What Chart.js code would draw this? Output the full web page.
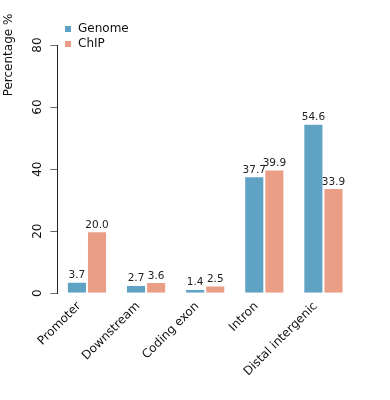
<!DOCTYPE html>
<html>
<head>
<meta charset="utf-8">
<script src="https://cdn.jsdelivr.net/npm/chart.js@4"></script>
<style>
  body { margin: 0; background: #fff; }
  #wrap { width: 390px; height: 400px; }
</style>
</head>
<body>
<div id="wrap"><canvas id="regionChart" width="390" height="400"></canvas></div>
<script>
const categories = ['Promoter', 'Downstream', 'Coding exon', 'Intron', 'Distal intergenic'];
const genomeValues = [3.7, 2.7, 1.4, 37.7, 54.6];
const chipValues = [20.0, 3.6, 2.5, 39.9, 33.9];
const yTicks = [0, 20, 40, 60, 80];

const FONT = '"DejaVu Sans", sans-serif';

// value labels above each bar
const valueLabels = {
    id: 'valueLabels',
    afterDatasetsDraw(chart) {
        const ctx = chart.ctx;
        ctx.save();
        ctx.font = '10.5px ' + FONT;
        ctx.fillStyle = '#222';
        ctx.textAlign = 'center';
        ctx.textBaseline = 'bottom';
        chart.data.datasets.forEach((ds, i) => {
            chart.getDatasetMeta(i).data.forEach((bar, j) => {
                ctx.fillText(ds.data[j].toFixed(1), bar.x, bar.y - 1);
            });
        });
        ctx.restore();
    }
};

// legend in top left, y axis title, vertical y tick labels
const extras = {
    id: 'extras',
    afterDraw(chart) {
        const ctx = chart.ctx;
        const y = chart.scales.y;
        ctx.save();
        ctx.font = '12px ' + FONT;
        ctx.textBaseline = 'middle';
        ctx.textAlign = 'left';
        chart.data.datasets.forEach((ds, i) => {
            const ly = 29 + i * 15;
            ctx.fillStyle = ds.backgroundColor;
            ctx.fillRect(65, ly - 3, 6, 6);
            ctx.fillStyle = '#111';
            ctx.fillText(ds.label, 78, ly);
        });
        ctx.save();
        ctx.translate(9, 55);
        ctx.rotate(-Math.PI / 2);
        ctx.textAlign = 'center';
        ctx.fillText('Percentage %', 0, 0);
        ctx.restore();
        yTicks.forEach(v => {
            ctx.save();
            ctx.translate(y.right - 20, y.getPixelForValue(v));
            ctx.rotate(-Math.PI / 2);
            ctx.textAlign = 'center';
            ctx.fillText(String(v), 0, 0);
            ctx.restore();
        });
        ctx.restore();
    }
};

const ctx = document.getElementById('regionChart').getContext('2d');
new Chart(ctx, {
    type: 'bar',
    data: {
        labels: categories,
        datasets: [{
            label: 'Genome',
            data: genomeValues,
            backgroundColor: '#5fa2c4',
            borderColor: 'rgba(255,255,255,0.6)',
            borderWidth: 1
        }, {
            label: 'ChIP',
            data: chipValues,
            backgroundColor: '#eb9e86',
            borderColor: 'rgba(255,255,255,0.6)',
            borderWidth: 1
        }]
    },
    options: {
        responsive: false,
        animation: false,
        categoryPercentage: 0.68,
        barPercentage: 1.0,
        layout: { padding: { top: 45, left: 28, right: 37, bottom: 23 } },
        plugins: {
            legend: { display: false },
            tooltip: { enabled: false }
        },
        scales: {
            x: {
                grid: { display: false },
                border: { display: false },
                ticks: {
                    minRotation: 45,
                    maxRotation: 45,
                    color: '#111',
                    padding: -2,
                    labelOffset: -8,
                    font: { family: FONT, size: 12 }
                }
            },
            y: {
                min: 0,
                max: 80,
                afterBuildTicks(scale) {
                    scale.ticks = yTicks.map(v => ({ value: v }));
                },
                grid: {
                    drawOnChartArea: false,
                    drawTicks: true,
                    tickLength: 7,
                    color: '#666'
                },
                border: { display: true, color: '#222', width: 1 },
                ticks: {
                    minRotation: 90,
                    maxRotation: 90,
                    color: 'rgba(0,0,0,0)',
                    padding: 4,
                    font: { family: FONT, size: 12 }
                }
            }
        }
    },
    plugins: [valueLabels, extras]
});
</script>
</body>
</html>
